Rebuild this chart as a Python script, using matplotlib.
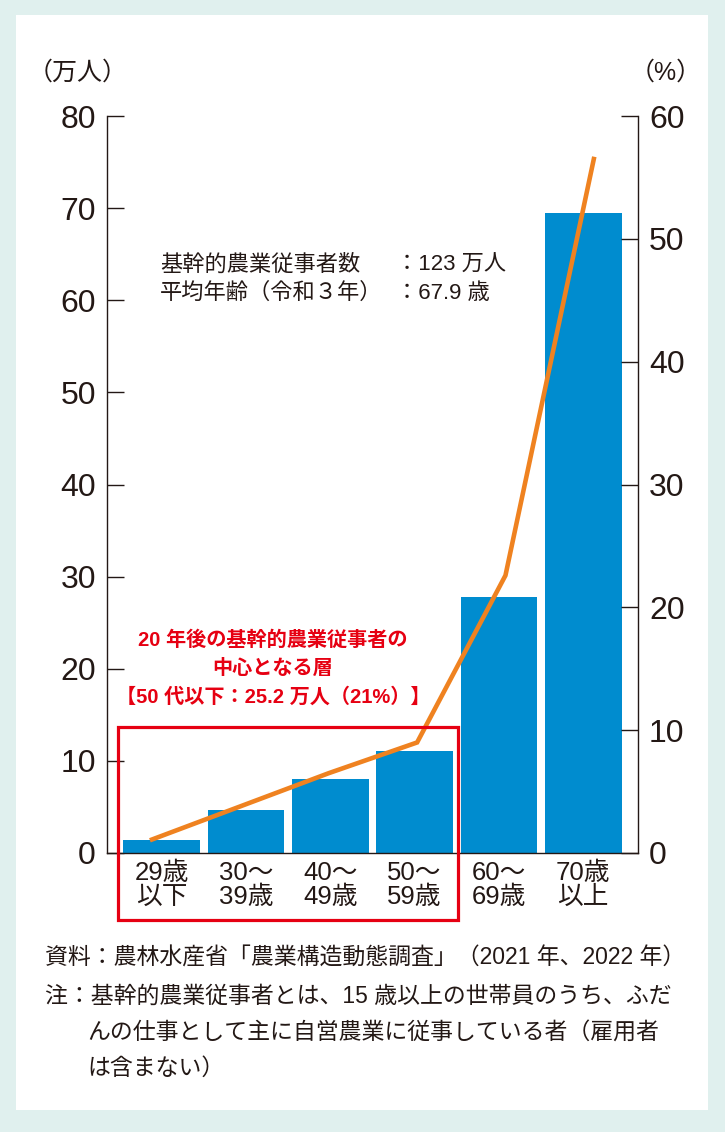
import matplotlib.pyplot as plt
from matplotlib.patches import Rectangle

plt.rcParams['font.family'] = ['Liberation Sans', 'Noto Sans CJK JP', 'DejaVu Sans']

categories = ['29歳\n以下', '30～\n39歳', '40～\n49歳', '50～\n59歳', '60～\n69歳', '70歳\n以上']
workers = [1.4, 4.7, 8.0, 11.1, 27.8, 69.5]      # 万人
share = [1.1, 3.8, 6.5, 9.0, 22.6, 56.5]          # %
left_ticks = [0, 10, 20, 30, 40, 50, 60, 70, 80]
right_ticks = [0, 10, 20, 30, 40, 50, 60]

BAR = '#008ccf'
LINE = '#ef8220'
RED = '#e60012'
INK = '#231815'

W, H = 725, 1132
fig = plt.figure(figsize=(W / 100, H / 100), dpi=100)
fig.patch.set_facecolor('#e0f0ee')
fig.add_artist(Rectangle((16 / W, 1 - 1110 / H), (708 - 16) / W, (1110 - 15) / H,
                         transform=fig.transFigure, facecolor='white', edgecolor='none', zorder=0))

rect = [107 / W, 1 - 853 / H, (638 - 107) / W, (853 - 116) / H]
ax = fig.add_axes(rect)
ax.set_facecolor('none')
x = list(range(len(categories)))
ax.bar(x, workers, width=0.91, color=BAR, zorder=2)
ax.set_xlim(-0.65, 5.65)
ax.set_ylim(0, 80)
ax.set_yticks(left_ticks)
ax.set_xticks(x)
ax.set_xticklabels(categories, fontsize=18.5, color=INK, linespacing=1.0)
ax.tick_params(axis='x', length=0, pad=6)
ax.tick_params(axis='y', direction='in', length=12, width=1, pad=8, labelsize=23,
               colors=INK)
ax.spines['top'].set_visible(False)
for s in ['left', 'right', 'bottom']:
    ax.spines[s].set_color(INK)
    ax.spines[s].set_linewidth(1)

# percentage line on its own axes (same frame)
ax2 = fig.add_axes(rect)
ax2.patch.set_visible(False)
ax2.plot(x, share, color=LINE, lw=3.3, solid_joinstyle='miter', zorder=3)
ax2.set_xlim(-0.51, 5.5)
ax2.set_ylim(0, 60)
ax2.set_xticks([])
ax2.yaxis.tick_right()
ax2.set_yticks(right_ticks)
ax2.tick_params(axis='y', direction='in', length=12, width=1, pad=8, labelsize=23,
                colors=INK)
for s in ['top', 'left', 'bottom', 'right']:
    ax2.spines[s].set_visible(False)

def px(xp, yp):
    return xp / W, 1 - yp / H

fig.text(*px(28, 73), '（万人）', fontsize=18, color=INK, va='center', ha='left')
fig.text(*px(702, 73), '（%）', fontsize=18, color=INK, va='center', ha='right')

fs = 16
fig.text(*px(160, 265), '基幹的農業従事者数', fontsize=fs, color=INK, va='center')
fig.text(*px(396, 265), '：123 万人', fontsize=fs, color=INK, va='center')
fig.text(*px(160, 293), '平均年齢（令和３年）', fontsize=fs, color=INK, va='center')
fig.text(*px(396, 293), '：67.9 歳', fontsize=fs, color=INK, va='center')

fig.text(*px(273, 640), '20 年後の基幹的農業従事者の', fontsize=14.5, color=RED,
         va='center', ha='center', fontweight='bold')
fig.text(*px(273, 669), '中心となる層', fontsize=14.5, color=RED,
         va='center', ha='center', fontweight='bold')
fig.text(*px(273, 697), '【50 代以下：25.2 万人（21%）】', fontsize=14.5, color=RED,
         va='center', ha='center', fontweight='bold')

fig.add_artist(Rectangle(px(118, 920), (458 - 118) / W, (920 - 727) / H,
                         transform=fig.transFigure, facecolor='none',
                         edgecolor=RED, linewidth=2.3, zorder=5))

fs = 16.5
fig.text(*px(45, 958), '資料：農林水産省「農業構造動態調査」（2021 年、2022 年）',
         fontsize=fs, color=INK, va='center')
fig.text(*px(45, 996), '注：基幹的農業従事者とは、15 歳以上の世帯員のうち、ふだ',
         fontsize=fs, color=INK, va='center')
fig.text(*px(87, 1032), 'んの仕事として主に自営農業に従事している者（雇用者',
         fontsize=fs, color=INK, va='center')
fig.text(*px(87, 1068), 'は含まない）', fontsize=fs, color=INK, va='center')

fig.savefig('out.png', dpi=100, facecolor=fig.get_facecolor())
